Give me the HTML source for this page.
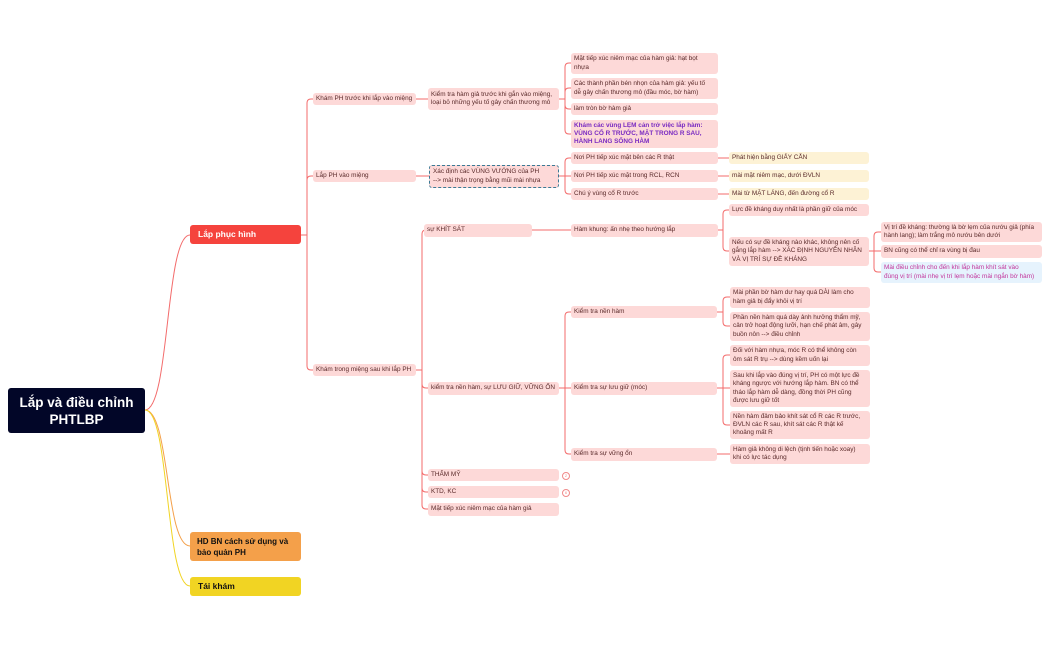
<!DOCTYPE html>
<html><head><meta charset="utf-8">
<style>
body{margin:0;width:1051px;height:650px;background:#fff;position:relative;overflow:hidden;font-family:"Liberation Sans","Noto Sans CJK SC",sans-serif;}
.n{position:absolute;box-sizing:border-box;background:#fdd9d8;border-radius:3px;font-size:6.4px;line-height:8.2px;color:#5a2a2a;padding:2px 3px;display:flex;align-items:center;white-space:nowrap;}
.y{background:#fdf2d5;}
.b{background:#e6f3fd;color:#c2339b;}
.p{color:#7a2bc2;font-weight:bold;}
.m{position:absolute;box-sizing:border-box;border-radius:3px;font-weight:bold;display:flex;align-items:center;padding:0 8px;font-size:8.5px;line-height:11px;white-space:nowrap;}
.c{position:absolute;width:6px;height:6px;border:1px solid #f08a8a;border-radius:50%;background:#fff;font-size:4px;color:#f08a8a;text-align:center;line-height:6px;}
svg{position:absolute;left:0;top:0;}
</style></head><body>
<svg width="1051" height="650" fill="none" stroke-width="1">
<g id="curves">
<path d="M145 410 C170 410,165 235,190 235" stroke="#f36b6b"/>
<path d="M145 410 C170 410,165 546,190 546" stroke="#f4a04a"/>
<path d="M145 410 C170 410,165 586,190 586" stroke="#f1d423"/>
</g>
<g id="e" stroke="#f36b6b"></g>
</svg>
<div class="m" style="left:8px;top:388px;width:137px;height:45px;background:#020628;color:#fff;font-size:13.5px;line-height:17px;justify-content:center;text-align:center;">Lắp và điều chỉnh<br>PHTLBP</div>
<div class="m" style="left:190px;top:225px;width:111px;height:19px;background:#f5433d;color:#fff;">Lắp phục hình</div>
<div class="m" style="left:190px;top:532px;width:111px;height:29px;background:#f4a04a;color:#111;font-size:8px;padding:0 7px;">HD BN cách sử dụng và<br>bảo quản PH</div>
<div class="m" style="left:190px;top:577px;width:111px;height:19px;background:#f1d423;color:#111;">Tái khám</div>

<div class="n" style="left:313px;top:93px;width:103px;height:12px">Khám PH trước khi lắp vào miệng</div>
<div class="n" style="left:313px;top:170px;width:103px;height:12px">Lắp PH vào miệng</div>
<div class="n" style="left:313px;top:364px;width:103px;height:12px">Khám trong miệng  sau khi lắp PH</div>

<div class="n" style="left:428px;top:88px;width:131px;height:22px">Kiểm tra hàm giả trước khi gắn vào miệng,<br>loại bỏ những yếu tố gây chấn thương mô</div>
<div class="n" style="left:429px;top:165px;width:130px;height:23px;border:1px dashed #3a7a95">Xác định các VÙNG VƯỚNG của PH<br>--&gt; mài thận trọng bằng mũi mài nhựa</div>
<div class="n" style="left:424px;top:224px;width:108px;height:13px">sự KHÍT SÁT</div>
<div class="n" style="left:428px;top:382px;width:131px;height:13px">kiểm tra nền hàm, sự LƯU GIỮ, VỮNG ỔN</div>
<div class="n" style="left:428px;top:469px;width:131px;height:12px">THẨM MỸ</div>
<div class="c" style="left:562px;top:472px">2</div>
<div class="n" style="left:428px;top:486px;width:131px;height:12px">KTD, KC</div>
<div class="c" style="left:562px;top:489px">6</div>
<div class="n" style="left:428px;top:503px;width:131px;height:13px">Mặt tiếp xúc niêm mạc của hàm giả</div>

<div class="n" style="left:571px;top:53px;width:147px;height:21px">Mặt tiếp xúc niêm mạc của hàm giả: hạt bọt<br>nhựa</div>
<div class="n" style="left:571px;top:78px;width:147px;height:21px">Các thành phần bén nhọn của hàm giả: yếu tố<br>dễ gây chấn thương mô (đầu móc, bờ hàm)</div>
<div class="n" style="left:571px;top:103px;width:147px;height:12px">làm tròn bờ hàm giả</div>
<div class="n p" style="left:571px;top:120px;width:147px;height:28px">Khám các vùng LẸM cản trở việc lắp hàm:<br>VÙNG CỔ R TRƯỚC, MẶT TRONG R SAU,<br>HÀNH LANG SỐNG HÀM</div>
<div class="n" style="left:571px;top:152px;width:147px;height:12px">Nơi PH tiếp xúc mặt bên các R thật</div>
<div class="n" style="left:571px;top:170px;width:147px;height:12px">Nơi PH tiếp xúc mặt trong RCL, RCN</div>
<div class="n" style="left:571px;top:188px;width:147px;height:12px">Chú ý vùng cổ R trước</div>
<div class="n y" style="left:729px;top:152px;width:140px;height:12px">Phát hiện bằng GIẤY CẮN</div>
<div class="n y" style="left:729px;top:170px;width:140px;height:12px">mài mặt niêm mạc, dưới ĐVLN</div>
<div class="n y" style="left:729px;top:188px;width:140px;height:12px">Mài từ MẶT LÁNG, đến đường cổ R</div>

<div class="n" style="left:571px;top:224px;width:147px;height:13px">Hàm khung: ấn nhẹ theo hướng lắp</div>
<div class="n" style="left:729px;top:204px;width:140px;height:12px">Lực đề  kháng duy nhất là phần giữ của móc</div>
<div class="n" style="left:729px;top:237px;width:140px;height:29px">Nếu có sự đề kháng nào khác, không nên cố<br>gắng lắp hàm --&gt; XÁC ĐỊNH NGUYÊN NHÂN<br>VÀ VỊ TRÍ SỰ ĐỀ KHÁNG</div>
<div class="n" style="left:881px;top:222px;width:161px;height:20px">Vị trí đề kháng: thường là bờ lẹm của nướu giả (phía<br>hành lang); làm trắng mô nướu bên dưới</div>
<div class="n" style="left:881px;top:245px;width:161px;height:13px">BN cũng có thể chỉ ra vùng bị đau</div>
<div class="n b" style="left:881px;top:262px;width:161px;height:21px">Mài điều chỉnh cho đến khi lắp hàm khít sát vào<br>đúng vị trí (mài nhẹ vị trí lẹm hoặc mài ngắn bờ hàm)</div>

<div class="n" style="left:571px;top:306px;width:146px;height:12px">Kiểm tra nền hàm</div>
<div class="n" style="left:571px;top:382px;width:146px;height:13px">Kiểm tra sự lưu giữ (móc)</div>
<div class="n" style="left:571px;top:448px;width:146px;height:13px">Kiểm tra sự vững ổn</div>
<div class="n" style="left:730px;top:287px;width:140px;height:21px">Mài phần bờ hàm dư hay quá DÀI làm cho<br>hàm giả bị đẩy khỏi vị trí</div>
<div class="n" style="left:730px;top:312px;width:140px;height:29px">Phần nền hàm quá dày ảnh hưởng thẩm mỹ,<br>cản trở hoạt động lưỡi, hạn chế phát âm, gây<br>buồn nôn --&gt; điều chỉnh</div>
<div class="n" style="left:730px;top:345px;width:140px;height:21px">Đối với hàm nhựa, móc R có thể không còn<br>ôm sát R trụ --&gt; dùng kềm uốn lại</div>
<div class="n" style="left:730px;top:370px;width:140px;height:37px">Sau khi lắp vào đúng vị trí, PH có một lực đề<br>kháng ngược với hướng lắp hàm. BN có thể<br>tháo lắp hàm dễ dàng, đồng thời PH cũng<br>được lưu giữ tốt</div>
<div class="n" style="left:730px;top:411px;width:140px;height:28px">Nền hàm đảm bảo khít sát cổ R các R trước,<br>ĐVLN các R sau, khít sát các R thật kế<br>khoảng mất R</div>
<div class="n" style="left:730px;top:444px;width:140px;height:20px">Hàm giả không di lệch (tịnh tiến hoặc xoay)<br>khi có lực tác dụng</div>

<script>
var E=[
[301,235,307,[99,176,370],313],
[416,99,422,[99],428],
[559,99,565,[63,88,109,134],571],
[416,176,422,[176],429],
[559,176,565,[158,176,194],571],
[718,158,723,[158],729],[718,176,723,[176],729],[718,194,723,[194],729],
[416,370,422,[230,388,475,492,509],428],
[532,230,550,[230],571],
[718,230,723,[210,251],729],
[869,251,874,[232,251,272],881],
[559,388,565,[312,388,454],571],
[717,312,723,[297,326],730],
[717,388,723,[355,388,425],730],
[717,454,723,[454],730]];
var d="";
E.forEach(function(e){var px=e[0],py=e[1],tx=e[2],cs=e[3],cx=e[4];
cs.forEach(function(cy){var dy=cy-py;
if(Math.abs(dy)<1){d+="M"+px+" "+py+"H"+cx;}
else{var s=dy>0?1:-1,r=Math.min(4,Math.abs(dy));
d+="M"+px+" "+py+"H"+tx+"V"+(cy-s*r)+"Q"+tx+" "+cy+" "+(tx+r)+" "+cy+"H"+cx;}});});
var p=document.createElementNS("http://www.w3.org/2000/svg","path");
p.setAttribute("d",d);document.getElementById("e").appendChild(p);
</script>
</body></html>
